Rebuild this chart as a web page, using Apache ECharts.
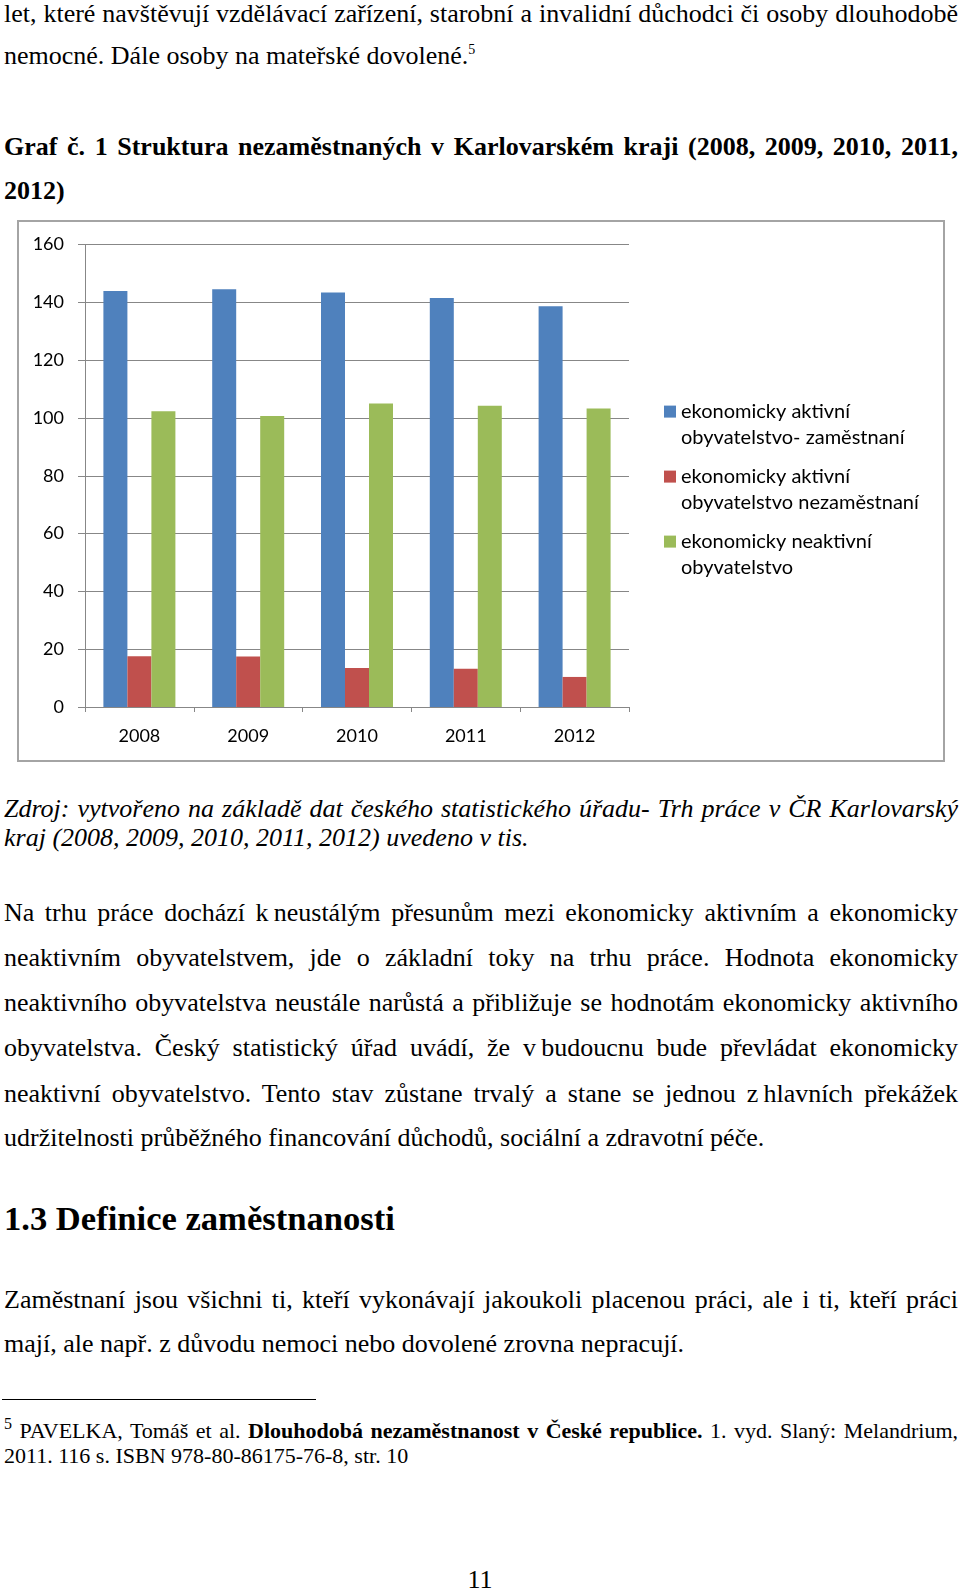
<!DOCTYPE html>
<html>
<head>
<meta charset="utf-8">
<script src="https://cdn.jsdelivr.net/npm/echarts@6/dist/echarts.min.js"></script>
<style>
  html, body { margin: 0; padding: 0; background: #fff; }
  body { width: 960px; height: 1590px; position: relative; overflow: hidden;
         font-family: 'Liberation Serif', 'Times New Roman', serif; color: #000; }
  .ln { position: absolute; left: 4px; width: 954px; font-size: 26px; line-height: 30px; height: 30px; white-space: normal; }
  .j { text-align: justify; text-align-last: justify; }
  .b { font-weight: bold; }
  .i { font-style: italic; }
  sup { font-size: 14px; vertical-align: 10px; line-height: 0; }
  .fn sup { font-size: 16px; vertical-align: 9px; }
  #chart { position: absolute; left: 17px; top: 220px; width: 928px; height: 542px; }
  .fn { font-size: 22px; line-height: 26px; height: 26px; }
</style>
</head>
<body>
<div class="ln j" style="top:-1px">let, které navštěvují vzdělávací zařízení, starobní a invalidní důchodci či osoby dlouhodobě</div>
<div class="ln" style="top:41px">nemocné. Dále osoby na mateřské dovolené.<sup>5</sup></div>
<div class="ln j b" style="top:132px">Graf č. 1 Struktura nezaměstnaných v Karlovarském kraji (2008, 2009, 2010, 2011,</div>
<div class="ln b" style="top:176px">2012)</div>

<div id="chart"></div>

<div class="ln j i" style="top:794px">Zdroj: vytvořeno na základě dat českého statistického úřadu- Trh práce v ČR Karlovarský</div>
<div class="ln i" style="top:823px">kraj (2008, 2009, 2010, 2011, 2012) uvedeno v tis.</div>

<div class="ln j" style="top:898px">Na trhu práce dochází k&#8201;neustálým přesunům mezi ekonomicky aktivním a ekonomicky</div>
<div class="ln j" style="top:943px">neaktivním obyvatelstvem, jde o základní toky na trhu práce. Hodnota ekonomicky</div>
<div class="ln j" style="top:988px">neaktivního obyvatelstva neustále narůstá a přibližuje se hodnotám ekonomicky aktivního</div>
<div class="ln j" style="top:1033px">obyvatelstva. Český statistický úřad uvádí, že v&#8201;budoucnu bude převládat ekonomicky</div>
<div class="ln j" style="top:1079px">neaktivní obyvatelstvo. Tento stav zůstane trvalý a stane se jednou z&#8201;hlavních překážek</div>
<div class="ln" style="top:1123px">udržitelnosti průběžného financování důchodů, sociální a zdravotní péče.</div>

<div class="ln b" style="top:1198px; font-size:34.6px; line-height:40px; height:40px;">1.3 Definice zaměstnanosti</div>

<div class="ln j" style="top:1285px">Zaměstnaní jsou všichni ti, kteří vykonávají jakoukoli placenou práci, ale i ti, kteří práci</div>
<div class="ln" style="top:1329px">mají, ale např. z důvodu nemoci nebo dovolené zrovna nepracují.</div>

<div style="position:absolute; left:2px; top:1399px; width:314px; height:1px; background:#000;"></div>
<div class="ln j fn" style="top:1418px"><sup>5</sup> PAVELKA, Tomáš et al. <b>Dlouhodobá nezaměstnanost v České republice.</b> 1. vyd. Slaný: Melandrium,</div>
<div class="ln fn" style="top:1443px">2011. 116 s. ISBN 978-80-86175-76-8, str. 10</div>

<div class="ln" style="top:1565px; left:0; width:960px; text-align:center;">11</div>

<script>
// ---- data ----
const years = ['2008', '2009', '2010', '2011', '2012'];
const employed = [143.9, 144.5, 143.4, 141.5, 138.6];
const unemployed = [17.6, 17.5, 13.5, 13.2, 10.4];
const inactive = [102.3, 100.7, 105.0, 104.2, 103.3];
const seriesNames = [
  'ekonomicky aktivní obyvatelstvo- zaměstnaní',
  'ekonomicky aktivní obyvatelstvo nezaměstnaní',
  'ekonomicky neaktivní obyvatelstvo'
];
const legendLines = {
  'ekonomicky aktivní obyvatelstvo- zaměstnaní': ['ekonomicky aktivní', 'obyvatelstvo- zaměstnaní'],
  'ekonomicky aktivní obyvatelstvo nezaměstnaní': ['ekonomicky aktivní', 'obyvatelstvo nezaměstnaní'],
  'ekonomicky neaktivní obyvatelstvo': ['ekonomicky neaktivní', 'obyvatelstvo']
};
const yMin = 0, yMax = 160, yStep = 20;
const colors = ['#4F81BD', '#C0504D', '#9BBB59'];

const chart = echarts.init(document.getElementById('chart'), null, { renderer: 'canvas' });
const font = 'Lato, "Open Sans", sans-serif';
const gridColor = '#878787';

chart.setOption({
  animation: false,
  color: colors,
  graphic: [{
    type: 'rect',
    shape: { x: 1, y: 1, width: 926, height: 540 },
    style: { fill: 'none', stroke: '#a4a4a4', lineWidth: 2 },
    silent: true
  }],
  grid: { left: 68, right: 316, top: 24.5, bottom: 55, containLabel: false, outerBoundsMode: 'none' },
  legend: {
    orient: 'vertical',
    left: 647,
    top: 152.6,
    padding: 0,
    itemWidth: 12,
    itemHeight: 12,
    itemGap: -13,
    icon: 'rect',
    data: seriesNames,
    // leading empty line keeps the first text line level with the marker
    formatter: n => '\n' + legendLines[n].join('\n'),
    textStyle: { fontFamily: font, fontSize: 20, lineHeight: 26, color: '#000' }
  },
  xAxis: {
    type: 'category',
    data: years,
    axisLine: { lineStyle: { color: gridColor, width: 1 } },
    axisTick: { show: true, length: 5, lineStyle: { color: gridColor } },
    axisLabel: { fontFamily: font, fontSize: 18, color: '#000', margin: 20 },
    splitLine: { show: false }
  },
  yAxis: {
    type: 'value',
    min: yMin, max: yMax, interval: yStep,
    axisLine: { show: true, lineStyle: { color: gridColor, width: 1 } },
    axisTick: { show: true, length: 7, lineStyle: { color: gridColor } },
    axisLabel: { fontFamily: font, fontSize: 18, color: '#000', margin: 21 },
    splitLine: { show: true, lineStyle: { color: gridColor, width: 1 } }
  },
  series: [
    { name: seriesNames[0], type: 'bar', data: employed, barWidth: 24, barGap: '0%' },
    { name: seriesNames[1], type: 'bar', data: unemployed, barWidth: 24, barGap: '0%' },
    { name: seriesNames[2], type: 'bar', data: inactive, barWidth: 24, barGap: '0%' }
  ]
});
</script>
</body>
</html>
